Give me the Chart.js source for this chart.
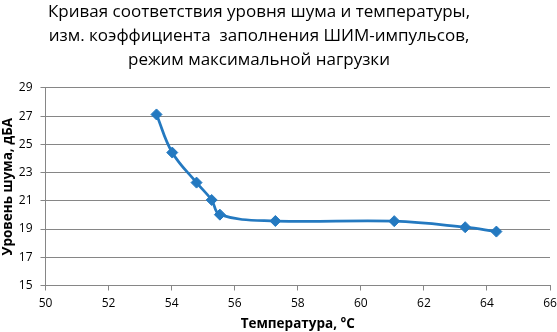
<!DOCTYPE html>
<html><head><meta charset="utf-8">
<script src="https://cdn.jsdelivr.net/npm/chart.js@4/dist/chart.umd.min.js"></script>
<style>html,body{margin:0;padding:0;background:#fff}#w{width:557px;height:332px;position:relative}</style>
</head><body><div id="w"><canvas id="c"></canvas></div>
<script>
const titleLines = ['Кривая соответствия уровня шума и температуры,', 'изм. коэффициента  заполнения ШИМ-импульсов,', 'режим максимальной нагрузки'];
const xTitle = 'Температура, °С';
const yTitle = 'Уровень шума, дБА';
const temperature = [53.52, 54.02, 54.79, 55.27, 55.53, 57.29, 61.06, 63.31, 64.30];
const noiseLevel = [27.12, 24.42, 22.29, 21.06, 20.02, 19.57, 19.56, 19.13, 18.82];
const xRange = [50, 66, 2];
const yRange = [15, 29, 2];

const pts = temperature.map((t, i) => ({x: t, y: noiseLevel[i]}));
const gridColor = '#868686';
const blue = '#2479C0';

const titleShift = {
  id: 'titleShift',
  afterLayout(chart) {
    if (chart.titleBlock) chart.titleBlock.right = chart.titleBlock.left + 518;
  }
};

new Chart(document.getElementById('c'), {
  type: 'scatter',
  data: { datasets: [{
    data: pts, showLine: true, tension: 0.4,
    borderColor: blue, backgroundColor: blue, borderWidth: 2.75,
    pointStyle: 'rectRot', pointRadius: 5.5, pointBorderWidth: 1,
    pointBackgroundColor: blue, pointBorderColor: blue
  }]},
  plugins: [titleShift],
  options: {
    responsive: true, maintainAspectRatio: false, animation: false,
    layout: { padding: { left: 0, right: 0, top: 0, bottom: 0 } },
    plugins: {
      legend: { display: false }, tooltip: { enabled: false },
      title: { display: true, text: titleLines, color: '#000',
        font: { family: 'Open Sans', size: 17, weight: 'normal', lineHeight: 1.41 },
        padding: { top: 0, bottom: 16 } }
    },
    scales: {
      x: {
        type: 'linear', min: xRange[0], max: xRange[1],
        ticks: { stepSize: xRange[2], color: '#000', font: { family: 'Open Sans', size: 12 }, padding: 6 },
        grid: { drawOnChartArea: false, drawTicks: true, tickLength: 5, color: gridColor },
        border: { display: true, color: gridColor },
        title: { display: true, text: xTitle, color: '#000', font: { family: 'Open Sans', size: 13.5, weight: 'bold', lineHeight: 1.2 }, padding: { top: 0, bottom: 0 } },
        afterFit: s => { s.height = 46.5; s.paddingRight = 7; s.paddingLeft = 0; }
      },
      y: {
        type: 'linear', min: yRange[0], max: yRange[1],
        ticks: { stepSize: yRange[2], color: '#000', font: { family: 'Open Sans', size: 12 }, padding: 8 },
        grid: { drawOnChartArea: true, drawTicks: true, tickLength: 5, color: gridColor },
        border: { display: true, color: gridColor },
        title: { display: true, text: yTitle, color: '#000', font: { family: 'Open Sans', size: 13.5, weight: 'bold', lineHeight: 1.2 }, padding: { top: 0, bottom: 0 } },
        afterFit: s => { s.width = 45.5; }
      }
    }
  }
});
</script></body></html>
